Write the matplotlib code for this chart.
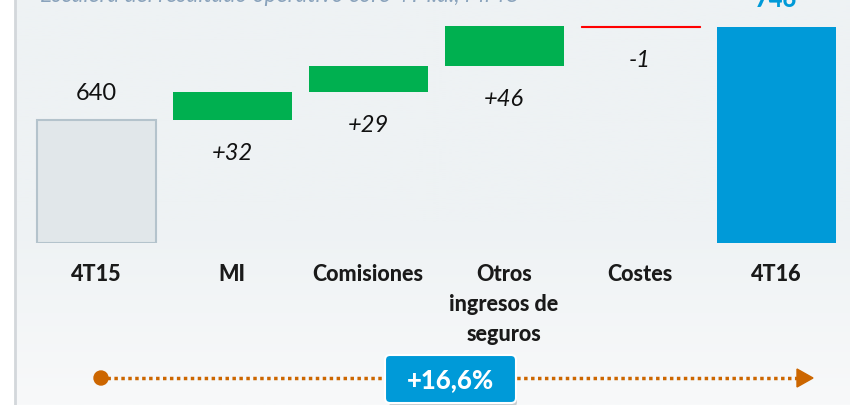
import numpy as np
import matplotlib.pyplot as plt
from matplotlib.patches import FancyBboxPatch, Circle, Polygon

plt.rcParams['font.family'] = ['Lato', 'DejaVu Sans']

# Waterfall of core operating result, MM€
categories = ['4T15', 'MI', 'Comisiones', 'Otros\ningresos de\nseguros', 'Costes', '4T16']
start_value = 640
deltas = [32, 29, 46, -1]
end_value = 746
value_labels = ['640', '+32', '+29', '+46', '-1', '746']
growth_label = '+16,6%'
title = 'Escalera del resultado operativo core 4T i.a., MM€'

base = 500
green = '#00b050'
blue = '#009ad8'
red = '#ff0000'

W, H = 850, 405
fig = plt.figure(figsize=(W / 100, H / 100), dpi=100, facecolor='white')

# background panel with soft fade at the bottom
bg_ax = fig.add_axes([0, 0, 1, 1])
bg_ax.set_xlim(0, W)
bg_ax.set_ylim(H, 0)
bg_ax.axis('off')
grad = np.linspace(0, 1, 200)[:, None]
c_top = np.array([0xee, 0xf2, 0xf4]) / 255
c_bot = np.array([0xf8, 0xf9, 0xfa]) / 255
w = np.clip((grad - 0.55) / 0.45, 0, 1)
img = c_top * (1 - w[..., None]) + c_bot * w[..., None]
bg_ax.imshow(img, extent=[16, W, H, 0], aspect='auto', zorder=0)
bg_ax.plot([15.5, 15.5], [0, H], color='#d3d7db', lw=2, zorder=1)

# main waterfall axes: bottom edge sits at the bar baseline
ax = fig.add_axes([0, (H - 243) / H, 1, 243 / H])
ax.set_facecolor('none')
x = np.arange(len(categories))
ax.set_xlim((0 - 96) / 136, (W - 96) / 136)
ax.set_ylim(base, base + 243 / 0.8786)

width = 0.875
ax.bar(x[0], start_value - base, width, bottom=base, color='#e1e7ea',
       edgecolor='#b4c3cc', linewidth=1.5, zorder=2)
ax.annotate(value_labels[0], (x[0], start_value), xytext=(0, 19),
            textcoords='offset points', ha='center', va='center',
            fontsize=17, color='#111111')

level = start_value
for i, d in enumerate(deltas, start=1):
    col = green if d > 0 else red
    ax.bar(x[i], d, width, bottom=level, color=col,
           edgecolor=col if d < 0 else 'none', linewidth=0.8, zorder=2)
    low = min(level, level + d)
    ax.annotate(value_labels[i], (x[i], low), xytext=(0, -24),
                textcoords='offset points', ha='center', va='center',
                fontsize=17, style='italic', color='#111111')
    level += d

ax.bar(x[-1], end_value - base, width, bottom=base, color=blue, zorder=2)
ax.annotate(value_labels[-1], (x[-1], end_value), xytext=(0, 20),
            textcoords='offset points', ha='center', va='center',
            fontsize=17, fontweight='black', color=blue, annotation_clip=False)

ax.set_xticks(x)
ax.set_xticklabels(categories, fontsize=15.5, fontweight='black', color='#1a1a1a',
                   linespacing=1.52)
ax.tick_params(axis='x', length=0, pad=15)
ax.set_yticks([])
for s in ax.spines.values():
    s.set_visible(False)

# heading running off the top edge
fig.text(40 / W, 1 + 5 / H, title, ha='left', va='center', fontsize=16.5,
         style='italic', color='#8aa3bc')

# growth arrow from 4T15 to 4T16
y_arr = 378
bg_ax.plot([100, 800], [y_arr, y_arr], color='#cc6600', lw=2.5,
           linestyle=(0, (1, 1)), zorder=3)
bg_ax.add_patch(Circle((101, y_arr), 7, color='#cc6600', zorder=4))
bg_ax.add_patch(Polygon([[797, y_arr - 9], [797, y_arr + 9], [813, y_arr]],
                        closed=True, color='#cc6600', zorder=4))
bg_ax.add_patch(FancyBboxPatch((389, 359), 128, 48,
                               boxstyle='round,pad=0,rounding_size=5',
                               facecolor='#9aa3a8', edgecolor='none',
                               alpha=0.5, zorder=4))
bg_ax.add_patch(FancyBboxPatch((385, 355), 131, 48,
                               boxstyle='round,pad=0,rounding_size=5',
                               facecolor=blue, edgecolor='white', lw=1.5,
                               zorder=5))
bg_ax.text(451, 380, growth_label, ha='center', va='center', fontsize=18.5,
           fontweight='black', color='white', zorder=6)

fig.savefig('out.png', dpi=100, facecolor='white')
